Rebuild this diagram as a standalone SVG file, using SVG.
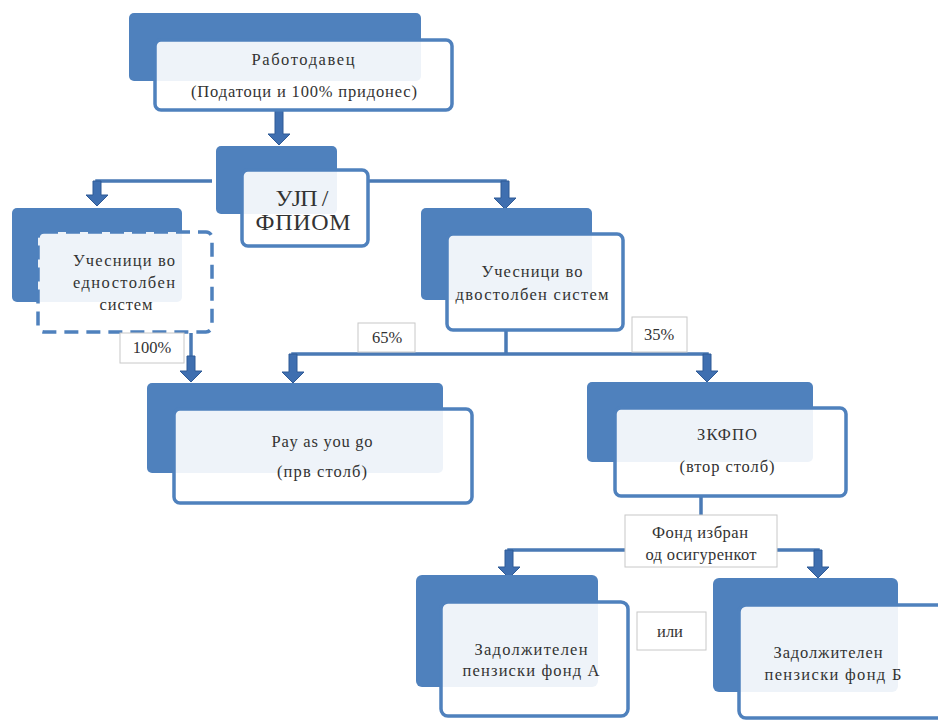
<svg xmlns="http://www.w3.org/2000/svg" width="938" height="720" viewBox="0 0 938 720">
<style>
.back{fill:#4f81bd}
.front{fill:#ffffff;fill-opacity:0.9;stroke:#4f81bd;stroke-width:3.5}
.dash{stroke-dasharray:14 8}
.ln{fill:none;stroke:#4a7ab5;stroke-width:3.5}
.arr{fill:#3f6fb0;stroke:#2f5a96;stroke-width:1}
.lbl{fill:#ffffff;stroke:#c8c8c8;stroke-width:1}
text{font-family:"Liberation Serif","DejaVu Serif",serif;fill:#333333;font-size:16.5px;text-anchor:middle}
.big{font-size:24px}
</style>
<rect width="938" height="720" fill="#ffffff"/>
<g id="connectors">
<polyline class="ln" points="212,181 97,181 97,196"/>
<polyline class="ln" points="368,181 505,181 505,199"/>
<polyline class="ln" points="191,333 191,366"/>
<polyline class="ln" points="506,330 506,354"/>
<polyline class="ln" points="293,366 293,354 707,354 707,366"/>
<polyline class="ln" points="701,496 701,518"/>
<polyline class="ln" points="509,565 509,550 818,550 818,565"/>
<polygon class="arr" points="275,111 283,111 283,134 290,134 279,145 268,134 275,134"/>
<polygon class="arr" points="93,181 101,181 101,195 108,195 97,206 86,195 93,195"/>
<polygon class="arr" points="501,181 509,181 509,198 516,198 505,209 494,198 501,198"/>
<polygon class="arr" points="187,356 195,356 195,371 202,371 191,382 180,371 187,371"/>
<polygon class="arr" points="289,354 297,354 297,372 304,372 293,383 282,372 289,372"/>
<polygon class="arr" points="703,354 711,354 711,371 718,371 707,382 696,371 703,371"/>
<polygon class="arr" points="505,550 513,550 513,567 520,567 509,578 498,567 505,567"/>
<polygon class="arr" points="814,550 822,550 822,567 829,567 818,578 807,567 814,567"/>
</g>
<g id="n1">
<rect class="back" x="129" y="13" width="292" height="68" rx="5"/>
<rect class="front" x="155" y="40" width="297" height="70" rx="6"/>
<text x="303" y="65" textLength="103" lengthAdjust="spacing">Работодавец</text>
<text x="304" y="97" textLength="226" lengthAdjust="spacing">(Податоци и 100% придонес)</text>
</g>
<g id="n2">
<rect class="back" x="216" y="146" width="121" height="68" rx="5"/>
<rect class="front" x="242" y="170" width="126" height="76" rx="6"/>
<text class="big" x="302" y="206" textLength="53" lengthAdjust="spacing">УЈП /</text>
<text class="big" x="303" y="230" textLength="95" lengthAdjust="spacing">ФПИОМ</text>
</g>
<g id="n3">
<rect class="back" x="12" y="208" width="170" height="94" rx="5"/>
<rect class="front dash" x="38" y="232" width="174" height="100" rx="6"/>
<text x="124" y="266" textLength="102" lengthAdjust="spacing">Учесници во</text>
<text x="124" y="288" textLength="102" lengthAdjust="spacing">едностолбен</text>
<text x="126" y="310" textLength="53" lengthAdjust="spacing">систем</text>
</g>
<g id="n4">
<rect class="back" x="421" y="208" width="171" height="92" rx="5"/>
<rect class="front" x="447" y="234" width="176" height="96" rx="6"/>
<text x="532" y="277" textLength="101" lengthAdjust="spacing">Учесници во</text>
<text x="532" y="300" textLength="153" lengthAdjust="spacing">двостолбен систем</text>
</g>
<g id="n5">
<rect class="back" x="147" y="383" width="296" height="90" rx="5"/>
<rect class="front" x="174" y="409" width="298" height="94" rx="6"/>
<text x="322" y="447" textLength="101" lengthAdjust="spacing">Pay as you go</text>
<text x="322" y="477" textLength="90" lengthAdjust="spacing">(прв столб)</text>
</g>
<g id="n6">
<rect class="back" x="587" y="382" width="226" height="80" rx="5"/>
<rect class="front" x="615" y="408" width="231" height="88" rx="6"/>
<text x="727" y="440" textLength="60" lengthAdjust="spacing">ЗКФПО</text>
<text x="727" y="472" textLength="95" lengthAdjust="spacing">(втор столб)</text>
</g>
<g id="n7">
<rect class="back" x="416" y="575" width="182" height="112" rx="6"/>
<rect class="front" x="441" y="602" width="187" height="114" rx="7"/>
<text x="531" y="655" textLength="113" lengthAdjust="spacing">Задолжителен</text>
<text x="531" y="676" textLength="137" lengthAdjust="spacing">пензиски фонд А</text>
</g>
<g id="n8">
<rect class="back" x="713" y="578" width="185" height="114" rx="6"/>
<rect class="front" x="739" y="605" width="210" height="113" rx="7"/>
<text x="828" y="658" textLength="109" lengthAdjust="spacing">Задолжителен</text>
<text x="833" y="680" textLength="137" lengthAdjust="spacing">пензиски фонд Б</text>
</g>
<g id="lbl100">
<rect class="lbl" x="120" y="333" width="64" height="30"/>
<text x="152" y="353">100%</text>
</g>
<g id="lbl65">
<rect class="lbl" x="358" y="323" width="57" height="29"/>
<text x="387" y="343">65%</text>
</g>
<g id="lbl35">
<rect class="lbl" x="632" y="317" width="55" height="35"/>
<text x="659" y="340">35%</text>
</g>
<g id="lblfond">
<rect class="lbl" x="625" y="515" width="152" height="52"/>
<text x="700" y="538" textLength="96" lengthAdjust="spacing">Фонд избран</text>
<text x="701" y="560" textLength="111" lengthAdjust="spacing">од осигуренкот</text>
</g>
<g id="lblili">
<rect class="lbl" x="637" y="612" width="69" height="38"/>
<text x="670" y="637">или</text>
</g>
</svg>
